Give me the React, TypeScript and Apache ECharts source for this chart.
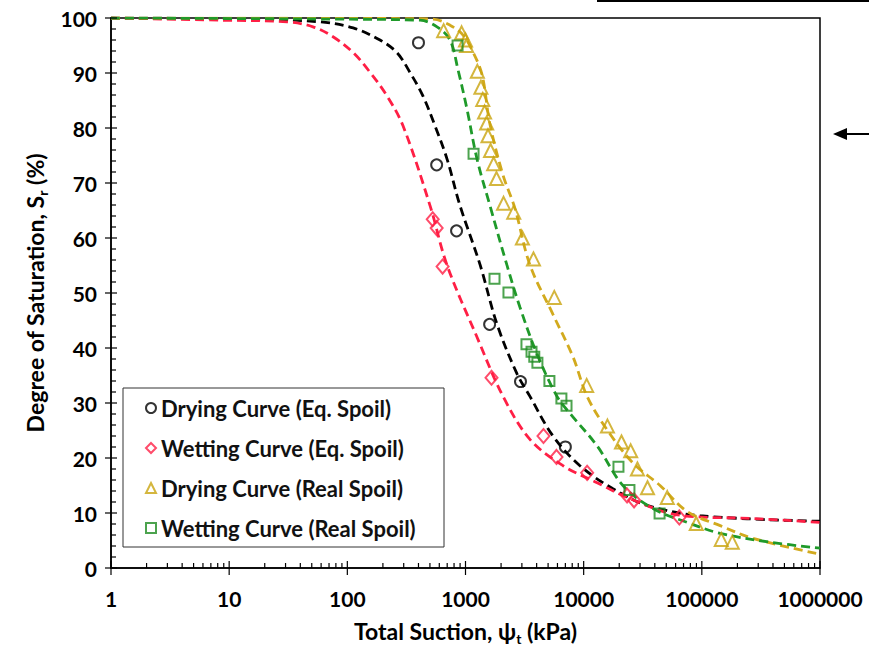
import React, { useEffect, useRef } from "react";
import * as echarts from "echarts";

// ---------- Measured points ----------
const dryEqSuction = [400, 570, 840, 1600, 2920, 7000];
const dryEqSat = [95.5, 73.3, 61.3, 44.3, 33.9, 22.0];

const wetEqSuction = [528, 570, 640, 1660, 4570, 5890, 10700, 23300, 26700, 64500];
const wetEqSat = [63.4, 61.8, 54.8, 34.6, 24.0, 20.2, 17.3, 13.2, 12.3, 9.2];

const dryRealSuction = [653, 927, 1000, 1020, 1260, 1350, 1400, 1450, 1510, 1550, 1630, 1730, 1830, 2100, 2560, 3030, 3760, 5640, 10600, 15900, 20900, 25000, 28500, 34700, 51000, 89700, 146000, 181000];
const dryRealSat = [97.7, 97.3, 96.0, 95.0, 90.3, 87.4, 85.2, 82.9, 80.9, 78.6, 75.9, 73.5, 70.8, 66.3, 64.7, 60.0, 56.2, 49.2, 33.2, 25.8, 22.9, 21.3, 18.0, 14.6, 12.8, 8.1, 5.2, 4.7];

const wetRealSuction = [857, 1170, 1760, 2310, 3280, 3620, 3820, 4060, 5130, 6480, 7160, 19700, 24400, 43900];
const wetRealSat = [95.0, 75.3, 52.6, 50.1, 40.7, 39.3, 38.4, 37.3, 34.0, 30.8, 29.5, 18.4, 14.2, 9.9];

// ---------- Fitted curves ----------
const dryEqFitX = [1, 15, 58.7, 112, 189, 263, 339, 437, 552, 697, 898, 1330, 1850, 2730, 3510, 5500, 9300, 17700, 34300, 96500, 1000000];
const dryEqFitY = [100, 99.8, 99.3, 98.2, 96.0, 93.7, 90.1, 85.8, 80.4, 74.4, 65.9, 55.1, 44.3, 35.3, 31.2, 24.0, 18.6, 14.4, 11.4, 9.5, 8.5];

const wetEqFitX = [1, 8.4, 30.9, 51.2, 75.6, 112, 156, 217, 296, 501, 697, 1250, 2080, 3510, 6690, 13000, 24700, 65300, 271000, 1000000];
const wetEqFitY = [100, 99.6, 99.3, 98.4, 96.6, 93.7, 90.1, 85.8, 80.4, 65.9, 55.1, 42.0, 31.2, 23.4, 18.6, 15.5, 12.6, 9.6, 9.0, 8.3];

const dryRealFitX = [1, 279, 531, 739, 953, 1140, 1380, 1610, 2080, 2620, 3510, 5500, 8120, 10700, 15700, 26100, 44300, 74900, 143000, 271000, 1000000];
const dryRealFitY = [100, 99.9, 99.8, 98.7, 96.9, 94.1, 89.7, 80.7, 71.4, 65.4, 55.1, 46.1, 38.4, 31.2, 25.2, 19.1, 15.0, 10.3, 7.7, 5.4, 2.5];

const wetRealFitX = [1, 71.3, 412, 574, 739, 864, 1030, 1250, 1610, 2240, 2890, 4030, 5950, 7660, 13000, 21500, 38600, 74900, 143000, 377000, 1000000];
const wetRealFitY = [100, 99.8, 99.6, 98.4, 96.0, 90.6, 83.4, 74.4, 65.9, 55.1, 47.4, 38.9, 31.2, 28.1, 22.2, 15.0, 10.8, 8.3, 6.3, 4.7, 3.6];

// ---------- Axes ----------
const xMajorTicks = [1, 10, 100, 1000, 10000, 100000, 1000000];
const xMinorMultipliers = [2, 3, 4, 5, 6, 7, 8, 9];
const yMajorTicks = [0, 10, 20, 30, 40, 50, 60, 70, 80, 90, 100];
const yMinorStep = 2;

const seriesNames = [
  "Drying Curve (Eq. Spoil)",
  "Wetting Curve (Eq. Spoil)",
  "Drying Curve (Real Spoil)",
  "Wetting Curve (Real Spoil)",
];

const COLORS = {
  black: "#000000",
  red: "#ff1f45",
  gold: "#c9a40e",
  green: "#1f8c22",
};

const FONT = "Lato";

const zip = (xs: number[], ys: number[]) => xs.map((x, i) => [x, ys[i]]);

export default function App() {
  const ref = useRef<HTMLDivElement>(null);

  useEffect(() => {
    if (!ref.current) return;
    const chart = echarts.init(ref.current, null, { renderer: "svg" });

    const xTickData: number[][] = [];
    xMajorTicks.forEach((v) => xTickData.push([v, 0, 1]));
    xMajorTicks.slice(0, -1).forEach((d) =>
      xMinorMultipliers.forEach((m) => xTickData.push([d * m, 0, 0]))
    );
    const yTickData: number[][] = [];
    yMajorTicks.forEach((v) => yTickData.push([1, v, 1]));
    for (let v = 0; v < 100; v += yMinorStep) {
      if (v % 10 !== 0) yTickData.push([1, v, 0]);
    }

    const lineSeries = (name: string, xs: number[], ys: number[], color: string) => ({
      name,
      type: "line",
      data: zip(xs, ys),
      showSymbol: false,
      smooth: 0.35,
      silent: true,
      z: 2,
      lineStyle: { color, width: 2.8, type: [9, 5] },
    });

    const scatterSeries = (name: string, xs: number[], ys: number[], color: string, symbol: string, size: any) => ({
      name,
      type: "scatter",
      data: zip(xs, ys),
      symbol,
      symbolSize: size,
      z: 3,
      itemStyle: { color: "rgba(255,255,255,0)", borderColor: color, borderWidth: 2 },
    });

    const titleStyle = {
      color: "#000",
      fontFamily: FONT,
      fontWeight: "bold",
      fontSize: 23,
      lineHeight: 28,
      rich: {
        sub: { fontSize: 14, fontFamily: FONT, fontWeight: "bold", verticalAlign: "bottom", lineHeight: 18, color: "#000" },
      },
    };

    const option: any = {
      animation: false,
      backgroundColor: "#ffffff",
      grid: {
        left: 111,
        top: 18,
        right: 49,
        bottom: 77,
        show: true,
        borderColor: "#000",
        borderWidth: 1.5,
        backgroundColor: "transparent",
      },
      xAxis: {
        type: "log",
        logBase: 10,
        min: 1,
        max: 1000000,
        axisLine: { show: true, lineStyle: { color: "#000", width: 1.5 } },
        axisTick: { show: false },
        splitLine: { show: false },
        minorTick: { show: false },
        axisLabel: {
          color: "#000",
          fontFamily: FONT,
          fontWeight: "bold",
          fontSize: 21,
          margin: 20,
          formatter: (v: number) => String(Math.round(v)),
        },
        name: "Total Suction, ψ{sub|t} (kPa)",
        nameLocation: "middle",
        nameGap: 49,
        nameTextStyle: titleStyle,
      },
      yAxis: {
        type: "value",
        min: 0,
        max: 100,
        interval: 10,
        axisLine: { show: true, lineStyle: { color: "#000", width: 1.5 } },
        axisTick: { show: false },
        splitLine: { show: false },
        axisLabel: {
          color: "#000",
          fontFamily: FONT,
          fontWeight: "bold",
          fontSize: 21,
          margin: 14,
        },
        name: "Degree of Saturation, S{sub|r} (%)",
        nameLocation: "middle",
        nameGap: 62,
        nameRotate: 90,
        nameTextStyle: titleStyle,
      },
      legend: {
        data: seriesNames,
        orient: "vertical",
        left: 145,
        top: 396,
        padding: 0,
        itemWidth: 10,
        itemHeight: 10,
        itemGap: 16,
        textStyle: {
          color: "#111",
          fontFamily: FONT,
          fontWeight: "bold",
          fontSize: 22,
          lineHeight: 24,
        },
      },
      graphic: [
        {
          type: "rect",
          shape: { x: 123, y: 388, width: 321, height: 159 },
          style: { fill: "rgba(255,255,255,0.85)", stroke: "#333", lineWidth: 1 },
          z: 1,
        },
        {
          type: "line",
          shape: { x1: 597, y1: 1, x2: 869, y2: 1 },
          style: { stroke: "#000", lineWidth: 2 },
        },
        {
          type: "line",
          shape: { x1: 843, y1: 134, x2: 869, y2: 134 },
          style: { stroke: "#000", lineWidth: 2 },
        },
        {
          type: "polygon",
          shape: { points: [[833, 134], [847, 128], [847, 140]] },
          style: { fill: "#000" },
        },
      ],
      series: [
        lineSeries("fit-dry-eq", dryEqFitX, dryEqFitY, COLORS.black),
        lineSeries("fit-wet-eq", wetEqFitX, wetEqFitY, COLORS.red),
        lineSeries("fit-dry-real", dryRealFitX, dryRealFitY, "#d2aa1e"),
        lineSeries("fit-wet-real", wetRealFitX, wetRealFitY, "#1f9a2a"),
        scatterSeries(seriesNames[0], dryEqSuction, dryEqSat, COLORS.black, "circle", 11),
        scatterSeries(seriesNames[1], wetEqSuction, wetEqSat, COLORS.red, "diamond", [12, 14]),
        scatterSeries(seriesNames[2], dryRealSuction, dryRealSat, COLORS.gold, "triangle", 13),
        scatterSeries(seriesNames[3], wetRealSuction, wetRealSat, COLORS.green, "rect", 10),
        {
          name: "x-ticks",
          type: "custom",
          silent: true,
          clip: false,
          z: 4,
          data: xTickData,
          renderItem: (params: any, api: any) => {
            const p = api.coord([api.value(0), 0]);
            const major = api.value(2) === 1;
            return {
              type: "line",
              shape: { x1: p[0], y1: major ? p[1] + 7 : p[1], x2: p[0], y2: p[1] - (major ? 7 : 5) },
              style: { stroke: "#000", lineWidth: 1.2 },
            };
          },
        },
        {
          name: "y-ticks",
          type: "custom",
          silent: true,
          clip: false,
          z: 4,
          data: yTickData,
          renderItem: (params: any, api: any) => {
            const p = api.coord([1, api.value(1)]);
            const major = api.value(2) === 1;
            return {
              type: "line",
              shape: { x1: major ? p[0] - 6 : p[0], y1: p[1], x2: p[0] + (major ? 6 : 5), y2: p[1] },
              style: { stroke: "#000", lineWidth: 1.2 },
            };
          },
        },
      ],
    };

    chart.setOption(option);
    return () => chart.dispose();
  }, []);

  return <div ref={ref} style={{ width: 869, height: 650, position: "absolute", left: 0, top: 0 }} />;
}
